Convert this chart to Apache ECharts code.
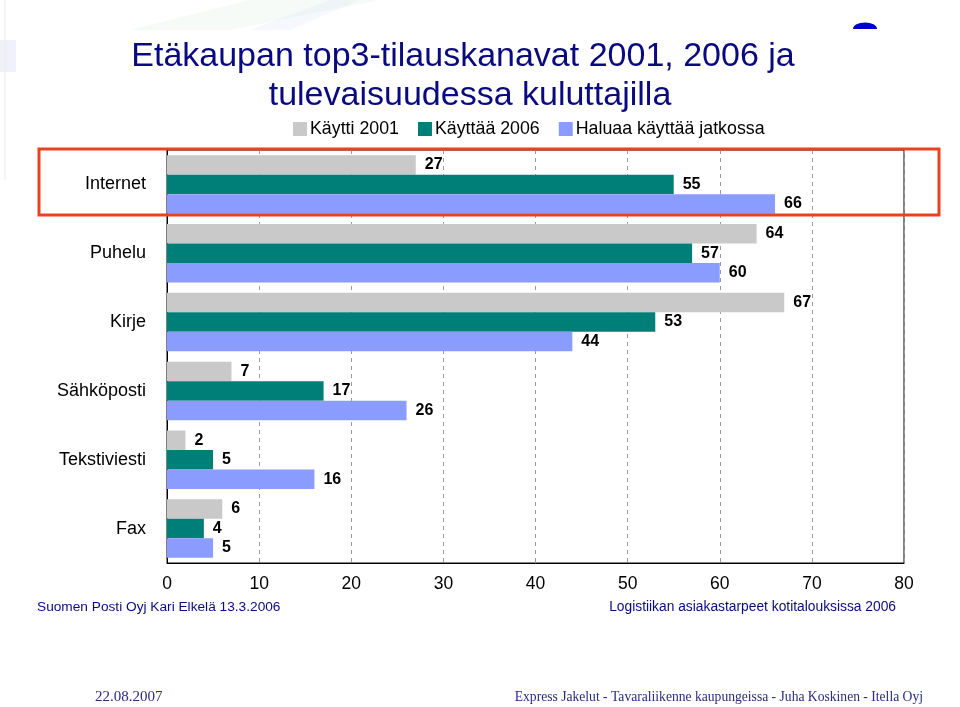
<!DOCTYPE html>
<html><head><meta charset="utf-8">
<script src="https://cdn.jsdelivr.net/npm/echarts@6/dist/echarts.min.js"></script>
<style>html,body{margin:0;padding:0;background:#fff}#c{width:960px;height:707px}</style>
</head><body><div id="c"></div>
<script>
var categories = ['Internet', 'Puhelu', 'Kirje', 'Sähköposti', 'Tekstiviesti', 'Fax'];
var seriesNames = ['Käytti 2001', 'Käyttää 2006', 'Haluaa käyttää jatkossa'];
var used2001 = [27, 64, 67, 7, 2, 6];
var uses2006 = [55, 57, 53, 17, 5, 4];
var wantsFuture = [66, 60, 44, 26, 16, 5];
var xTicks = [0, 10, 20, 30, 40, 50, 60, 70, 80];
var colors = ['#C9C9C9', '#007F78', '#8A9CFF'];

var chart = echarts.init(document.getElementById('c'));
var F = '"Liberation Sans", Arial, sans-serif';
function mk(name, data, color) {
  return {
    name: name, type: 'bar', data: data, barGap: '0%', barCategoryGap: '15%',
    itemStyle: { color: color },
    label: { show: true, position: 'right', distance: 9, color: '#000',
             fontFamily: F, fontWeight: 'bold', fontSize: 16 },
    silent: true
  };
}
chart.setOption({
  animation: false,
  backgroundColor: '#fff',
  legend: {
    data: seriesNames, left: 288, top: 115, itemWidth: 14, itemHeight: 14, itemGap: 19,
    icon: 'rect', textStyle: { fontFamily: F, fontSize: 17.8, color: '#000', padding: [0, 0, 0, -2] }
  },
  grid: { left: 167, right: 56, top: 150, bottom: 144, show: true, borderColor: '#000', borderWidth: 1 },
  xAxis: {
    type: 'value', min: 0, max: 80, interval: 10,
    axisLine: { show: true, lineStyle: { color: '#000' } },
    axisTick: { show: false },
    axisLabel: { margin: 12, fontFamily: F, fontSize: 17.5, color: '#000',
                 formatter: function (v) { return xTicks.indexOf(v) >= 0 ? String(v) : ''; } },
    splitLine: { show: true, lineStyle: { color: '#9a9a9a', type: [4, 4], width: 1 } }
  },
  yAxis: {
    type: 'category', data: categories, inverse: true,
    axisLine: { show: true, lineStyle: { color: '#000' } },
    axisTick: { show: false },
    axisLabel: { margin: 21, fontFamily: F, fontSize: 18, color: '#000' }
  },
  series: [mk(seriesNames[0], used2001, colors[0]), mk(seriesNames[1], uses2006, colors[1]), mk(seriesNames[2], wantsFuture, colors[2])],
  graphic: [
    { type: 'polygon', silent: true, z: -10, shape: { points: [[130, 30], [250, 0], [380, 0], [230, 30]] }, style: { fill: 'rgba(215,238,222,0.22)' } },
    { type: 'polygon', silent: true, z: -10, shape: { points: [[250, 30], [330, 0], [360, 0], [290, 30]] }, style: { fill: 'rgba(215,222,245,0.22)' } },
    { type: 'rect', silent: true, z: -10, shape: { x: 0, y: 40, width: 16, height: 32 }, style: { fill: 'rgba(225,225,248,0.45)' } },
    { type: 'rect', silent: true, z: -10, shape: { x: 4, y: 0, width: 2, height: 180 }, style: { fill: 'rgba(235,235,242,0.5)' } },
    { type: 'sector', silent: true, x: 865, y: 29, scaleY: 0.55, shape: { cx: 0, cy: 0, r: 12, startAngle: Math.PI, endAngle: 2 * Math.PI }, style: { fill: '#0000C8' } },
    { type: 'text', silent: true, style: { text: 'Etäkaupan top3-tilauskanavat 2001, 2006 ja', x: 463, y: 57, align: 'center', verticalAlign: 'middle', font: '34px "Liberation Sans", Arial, sans-serif', fill: '#0A0A80' } },
    { type: 'text', silent: true, style: { text: 'tulevaisuudessa kuluttajilla', x: 470, y: 96, align: 'center', verticalAlign: 'middle', font: '34px "Liberation Sans", Arial, sans-serif', fill: '#0A0A80' } },
    { type: 'rect', silent: true, z: 100, shape: { x: 39, y: 149, width: 900, height: 66 }, style: { fill: 'none', stroke: '#E8431E', lineWidth: 3 } },
    { type: 'text', silent: true, style: { text: 'Suomen Posti Oyj Kari Elkelä 13.3.2006', x: 37, y: 607, align: 'left', verticalAlign: 'middle', font: '13.7px "Liberation Sans", Arial, sans-serif', fill: '#0A0A80' } },
    { type: 'text', silent: true, style: { text: 'Logistiikan asiakastarpeet kotitalouksissa 2006', x: 896, y: 607, align: 'right', verticalAlign: 'middle', font: '13.8px "Liberation Sans", Arial, sans-serif', fill: '#0A0A80' } },
    { type: 'text', silent: true, style: { text: '22.08.2007', x: 95, y: 697, align: 'left', verticalAlign: 'middle', font: '15px "Liberation Serif", "Times New Roman", serif', fill: '#2A2A80' } },
    { type: 'text', silent: true, style: { text: 'Express Jakelut - Tavaraliikenne kaupungeissa - Juha Koskinen - Itella Oyj', x: 923, y: 697, align: 'right', verticalAlign: 'middle', font: '13.6px "Liberation Serif", "Times New Roman", serif', fill: '#2A2A80' } }
  ]
});
</script></body></html>
